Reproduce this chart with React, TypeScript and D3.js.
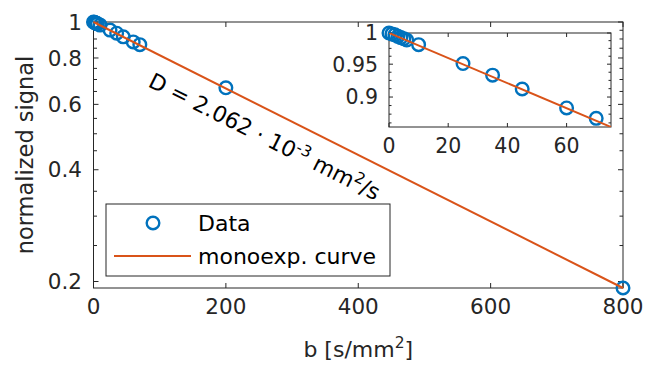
import React from "react";
import * as d3 from "d3";

const bValues = [0, 1, 2, 3, 4, 5, 6, 10, 25, 35, 45, 60, 70, 200, 800];
const signal = [1.0, 0.9985, 0.997, 0.9945, 0.9925, 0.9905, 0.9885, 0.981, 0.951, 0.933, 0.912, 0.884, 0.869, 0.665, 0.1921];
const fitB = [0, 800];
const fitS = [1.0, 0.1921];
const mainXTicks = [0, 200, 400, 600, 800];
const mainYTicks = [0.2, 0.4, 0.6, 0.8, 1];
const mainYTickLabels = ["0.2", "0.4", "0.6", "0.8", "1"];
const mainYMinor = [0.25, 0.3, 0.35, 0.45, 0.5, 0.55, 0.65, 0.7, 0.75, 0.85, 0.9, 0.95];
const insetXTicks = [0, 20, 40, 60];
const insetYTicks = [0.9, 0.95, 1];
const insetYTickLabels = ["0.9", "0.95", "1"];
const insetYMinor = [0.8625, 0.875, 0.8875, 0.9125, 0.925, 0.9375, 0.9625, 0.975, 0.9875];
const legendLabels = ["Data", "monoexp. curve"];

const W = 657, H = 369;
const FONT = "DejaVu Sans";
const TXT = "#262626";
const BLUE = "#0072BD";
const ORANGE = "#D95319";
const MR = 6.3;
const MSW = 2.4;

const main = { l: 93.5, r: 623, t: 22, b: 288 };
const inset = { l: 389, r: 611, t: 33, b: 127 };

export default function App() {
  const x = d3.scaleLinear().domain([0, 800]).range([main.l, main.r]);
  const y = d3.scaleLog().domain([0.1921, 1]).range([main.b, main.t]);
  const xi = d3.scaleLinear().domain([0, 75]).range([inset.l, inset.r]);
  const yi = d3.scaleLog().domain([0.8567, 1]).range([inset.b, inset.t]);

  const pts = bValues.map((b, i) => ({ b, s: signal[i] }));
  const fit = fitB.map((b, i) => ({ b, s: fitS[i] }));
  const lineMain = d3.line<any>().x((d) => x(d.b)).y((d) => y(d.s));
  const lineInset = d3.line<any>().x((d) => xi(d.b)).y((d) => yi(d.s));

  const angle =
    (Math.atan2(y(fitS[1]) - y(fitS[0]), x(fitB[1]) - x(fitB[0])) * 180) / Math.PI;
  const ax = x(81), ay = y(0.672);

  const insetPts = pts.filter((p) => p.b <= 75);

  return (
    <svg width={W} height={H} style={{ display: "block", position: "absolute", left: 0, top: 0 }} fontFamily={FONT}>
      <rect x={0} y={0} width={W} height={H} fill="white" />
      <defs>
        <clipPath id="insetClip">
          <rect x={inset.l} y={inset.t} width={inset.r - inset.l} height={inset.b - inset.t} />
        </clipPath>
      </defs>

      {/* main axes */}
      <rect x={main.l} y={main.t} width={main.r - main.l} height={main.b - main.t} fill="white" />
      {mainXTicks.map((t) => (
        <g key={"mx" + t}>
          <line x1={x(t)} x2={x(t)} y1={main.b} y2={main.b - 5} stroke={TXT} />
          <line x1={x(t)} x2={x(t)} y1={main.t} y2={main.t + 5} stroke={TXT} />
          <text x={x(t)} y={314} textAnchor="middle" fontSize={21.5} fill={TXT}>{t}</text>
        </g>
      ))}
      {mainYTicks.map((t, i) => (
        <g key={"my" + t}>
          <line x1={main.l} x2={main.l + 5} y1={y(t)} y2={y(t)} stroke={TXT} />
          <line x1={main.r} x2={main.r - 5} y1={y(t)} y2={y(t)} stroke={TXT} />
          <text x={82} y={y(t)} dy="0.36em" textAnchor="end" fontSize={21.5} fill={TXT}>{mainYTickLabels[i]}</text>
        </g>
      ))}
      {mainYMinor.map((t) => (
        <g key={"mym" + t}>
          <line x1={main.l} x2={main.l + 3.5} y1={y(t)} y2={y(t)} stroke={TXT} />
          <line x1={main.r} x2={main.r - 3.5} y1={y(t)} y2={y(t)} stroke={TXT} />
        </g>
      ))}
      <rect x={main.l} y={main.t} width={main.r - main.l} height={main.b - main.t} fill="none" stroke={TXT} strokeWidth={1} />

      {pts.map((p, i) => (
        <circle key={"p" + i} cx={x(p.b)} cy={y(p.s)} r={MR} fill="none" stroke={BLUE} strokeWidth={MSW} />
      ))}
      <path d={lineMain(fit) || ""} fill="none" stroke={ORANGE} strokeWidth={2} />

      <text x={ax} y={ay} transform={`rotate(${angle} ${ax} ${ay})`} fontSize={22} fill="black">
        D = 2.062 · 10<tspan dy={-8} fontSize={15.5}>-3</tspan>
        <tspan dy={8}> mm</tspan>
        <tspan dy={-8} fontSize={15.5}>2</tspan>
        <tspan dy={8}>/s</tspan>
      </text>

      {/* axis labels */}
      <text x={(main.l + main.r) / 2} y={357} textAnchor="middle" fontSize={22} fill={TXT}>
        b [s/mm<tspan dy={-9} fontSize={15.5}>2</tspan>
        <tspan dy={9}>]</tspan>
      </text>
      <text transform={`translate(33 ${(main.t + main.b) / 2}) rotate(-90)`} textAnchor="middle" fontSize={22.5} fill={TXT}>
        normalized signal
      </text>

      {/* legend */}
      <rect x={106} y={204} width={284} height={72} fill="white" stroke={TXT} strokeWidth={1} />
      <circle cx={153} cy={223} r={MR} fill="none" stroke={BLUE} strokeWidth={MSW} />
      <text x={198} y={223} dy="0.36em" fontSize={22} fill="black">{legendLabels[0]}</text>
      <line x1={114} x2={191} y1={256} y2={256} stroke={ORANGE} strokeWidth={2} />
      <text x={198} y={256} dy="0.36em" fontSize={22} fill="black">{legendLabels[1]}</text>

      {/* inset */}
      <rect x={inset.l} y={inset.t} width={inset.r - inset.l} height={inset.b - inset.t} fill="white" />
      {insetXTicks.map((t) => (
        <g key={"ix" + t}>
          <line x1={xi(t)} x2={xi(t)} y1={inset.b} y2={inset.b - 4} stroke={TXT} />
          <line x1={xi(t)} x2={xi(t)} y1={inset.t} y2={inset.t + 4} stroke={TXT} />
          <text x={xi(t)} y={153} textAnchor="middle" fontSize={20.5} fill={TXT}>{t}</text>
        </g>
      ))}
      {insetYTicks.map((t, i) => (
        <g key={"iy" + t}>
          <line x1={inset.l} x2={inset.l + 4} y1={yi(t)} y2={yi(t)} stroke={TXT} />
          <line x1={inset.r} x2={inset.r - 4} y1={yi(t)} y2={yi(t)} stroke={TXT} />
          <text x={378} y={yi(t)} dy="0.36em" textAnchor="end" fontSize={20.5} fill={TXT}>{insetYTickLabels[i]}</text>
        </g>
      ))}
      {insetYMinor.map((t) => (
        <g key={"iym" + t}>
          <line x1={inset.l} x2={inset.l + 2.5} y1={yi(t)} y2={yi(t)} stroke={TXT} />
          <line x1={inset.r} x2={inset.r - 2.5} y1={yi(t)} y2={yi(t)} stroke={TXT} />
        </g>
      ))}
      <rect x={inset.l} y={inset.t} width={inset.r - inset.l} height={inset.b - inset.t} fill="none" stroke={TXT} strokeWidth={1} />
      {insetPts.map((p, i) => (
        <circle key={"ip" + i} cx={xi(p.b)} cy={yi(p.s)} r={MR} fill="none" stroke={BLUE} strokeWidth={MSW} />
      ))}
      <path d={lineInset(fit) || ""} fill="none" stroke={ORANGE} strokeWidth={2} clipPath="url(#insetClip)" />
    </svg>
  );
}
